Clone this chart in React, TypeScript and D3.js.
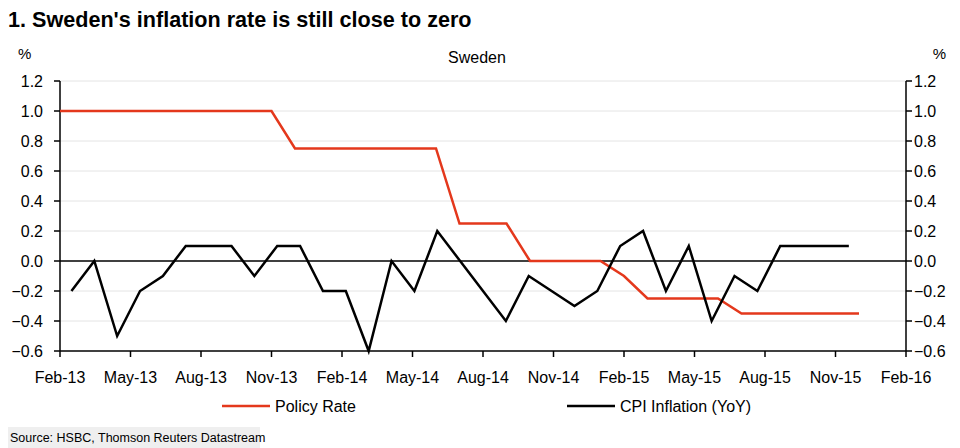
import React from "react";
import * as d3 from "d3";

const months: string[] = [
  "Feb-13","Mar-13","Apr-13","May-13","Jun-13","Jul-13","Aug-13","Sep-13","Oct-13","Nov-13","Dec-13","Jan-14",
  "Feb-14","Mar-14","Apr-14","May-14","Jun-14","Jul-14","Aug-14","Sep-14","Oct-14","Nov-14","Dec-14","Jan-15",
  "Feb-15","Mar-15","Apr-15","May-15","Jun-15","Jul-15","Aug-15","Sep-15","Oct-15","Nov-15","Dec-15","Jan-16",
  "Feb-16",
];
const xTickLabels: string[] = [
  "Feb-13","May-13","Aug-13","Nov-13","Feb-14","May-14","Aug-14","Nov-14","Feb-15","May-15","Aug-15","Nov-15","Feb-16",
];
const yTicks: number[] = [-0.6, -0.4, -0.2, 0, 0.2, 0.4, 0.6, 0.8, 1.0, 1.2];

const policyRate: number[] = [
  1.0, 1.0, 1.0, 1.0, 1.0, 1.0, 1.0, 1.0, 1.0, 1.0,
  0.75, 0.75, 0.75, 0.75, 0.75, 0.75, 0.75,
  0.25, 0.25, 0.25,
  0, 0, 0, 0,
  -0.1,
  -0.25, -0.25, -0.25, -0.25,
  -0.35, -0.35, -0.35, -0.35, -0.35, -0.35,
];
const cpiInflation: number[] = [
  -0.2, 0, -0.5, -0.2, -0.1, 0.1, 0.1, 0.1, -0.1, 0.1, 0.1, -0.2,
  -0.2, -0.6, 0, -0.2, 0.2, 0, -0.2, -0.4, -0.1, -0.2, -0.3, -0.2,
  0.1, 0.2, -0.2, 0.1, -0.4, -0.1, -0.2, 0.1, 0.1, 0.1, 0.1,
];

const W = 960;
const H = 448;
const L = 60;
const R = 906;
const T = 81;
const B = 351;
const RED = "#e4381c";
const FONT = "'Liberation Sans', Arial, sans-serif";

export default function App() {
  const xP = d3.scalePoint<string>().domain(months).range([L, R]);
  const xB = d3.scaleBand<string>().domain(months).range([L, R]).padding(0);
  const y = d3.scaleLinear().domain([-0.6, 1.2]).range([B, T]);
  const fmt = d3.format(".1f");

  const policyLine = d3
    .line<number>()
    .x((_, i) => xP(months[i]) as number)
    .y((d) => y(d));
  const cpiLine = d3
    .line<number>()
    .x((_, i) => (xB(months[i]) as number) + xB.bandwidth() / 2)
    .y((d) => y(d));

  return (
    <svg
      width={W}
      height={H}
      style={{ position: "absolute", left: 0, top: 0, background: "#fff" }}
      fontFamily={FONT}
    >
      <text x={8} y={27} fontSize={21.6} fontWeight="bold" fill="#000">
        1. Sweden's inflation rate is still close to zero
      </text>
      <text x={18} y={59} fontSize={15} fill="#000">%</text>
      <text x={946} y={59} fontSize={15} fill="#000" textAnchor="end">%</text>
      <text x={477} y={63} fontSize={16} fill="#000" textAnchor="middle">Sweden</text>

      {/* gridlines */}
      {yTicks.filter((t) => t !== 0 && t !== -0.6).map((t) => (
        <line key={"g" + t} x1={L} x2={R} y1={y(t)} y2={y(t)} stroke="#e4e4e4" strokeWidth={1} />
      ))}

      {/* axes */}
      <line x1={L} x2={L} y1={y(1.2)} y2={B} stroke="#000" strokeWidth={1.5} />
      <line x1={R} x2={R} y1={y(1.2)} y2={B} stroke="#000" strokeWidth={1.5} />
      <line x1={L} x2={R} y1={B} y2={B} stroke="#000" strokeWidth={1.5} />
      {yTicks.map((t) => (
        <g key={"yt" + t}>
          <line x1={L - 6} x2={L} y1={y(t)} y2={y(t)} stroke="#000" strokeWidth={1.5} />
          <line x1={R} x2={R + 6} y1={y(t)} y2={y(t)} stroke="#000" strokeWidth={1.5} />
          <text x={43} y={y(t)} dy="0.35em" fontSize={16} textAnchor="end" fill="#000">
            {fmt(t)}
          </text>
          <text x={914} y={y(t)} dy="0.35em" fontSize={16} textAnchor="start" fill="#000">
            {fmt(t)}
          </text>
        </g>
      ))}
      {xTickLabels.map((m) => (
        <g key={"xt" + m}>
          <line x1={xP(m)} x2={xP(m)} y1={B} y2={B + 6} stroke="#000" strokeWidth={1.5} />
          <text x={xP(m)} y={383} fontSize={16} textAnchor="middle" fill="#000">
            {m}
          </text>
        </g>
      ))}

      {/* zero line */}
      <line x1={L} x2={R} y1={y(0)} y2={y(0)} stroke="#000" strokeWidth={1.5} />

      {/* series */}
      <path d={policyLine(policyRate) || ""} fill="none" stroke={RED} strokeWidth={2.5} strokeLinejoin="miter" />
      <path d={cpiLine(cpiInflation) || ""} fill="none" stroke="#000" strokeWidth={2.5} strokeLinejoin="miter" />

      {/* legend */}
      <line x1={222} x2={270} y1={406} y2={406} stroke={RED} strokeWidth={2.5} />
      <text x={275} y={406} dy="0.35em" fontSize={16} fill="#000">Policy Rate</text>
      <line x1={567} x2={615} y1={406} y2={406} stroke="#000" strokeWidth={2.5} />
      <text x={620} y={406} dy="0.35em" fontSize={16} fill="#000">CPI Inflation (YoY)</text>

      {/* source */}
      <rect x={8} y={427} width={252} height={21} fill="#efefef" />
      <text x={10} y={442} fontSize={12.5} fill="#000">
        Source: HSBC, Thomson Reuters Datastream
      </text>
    </svg>
  );
}
